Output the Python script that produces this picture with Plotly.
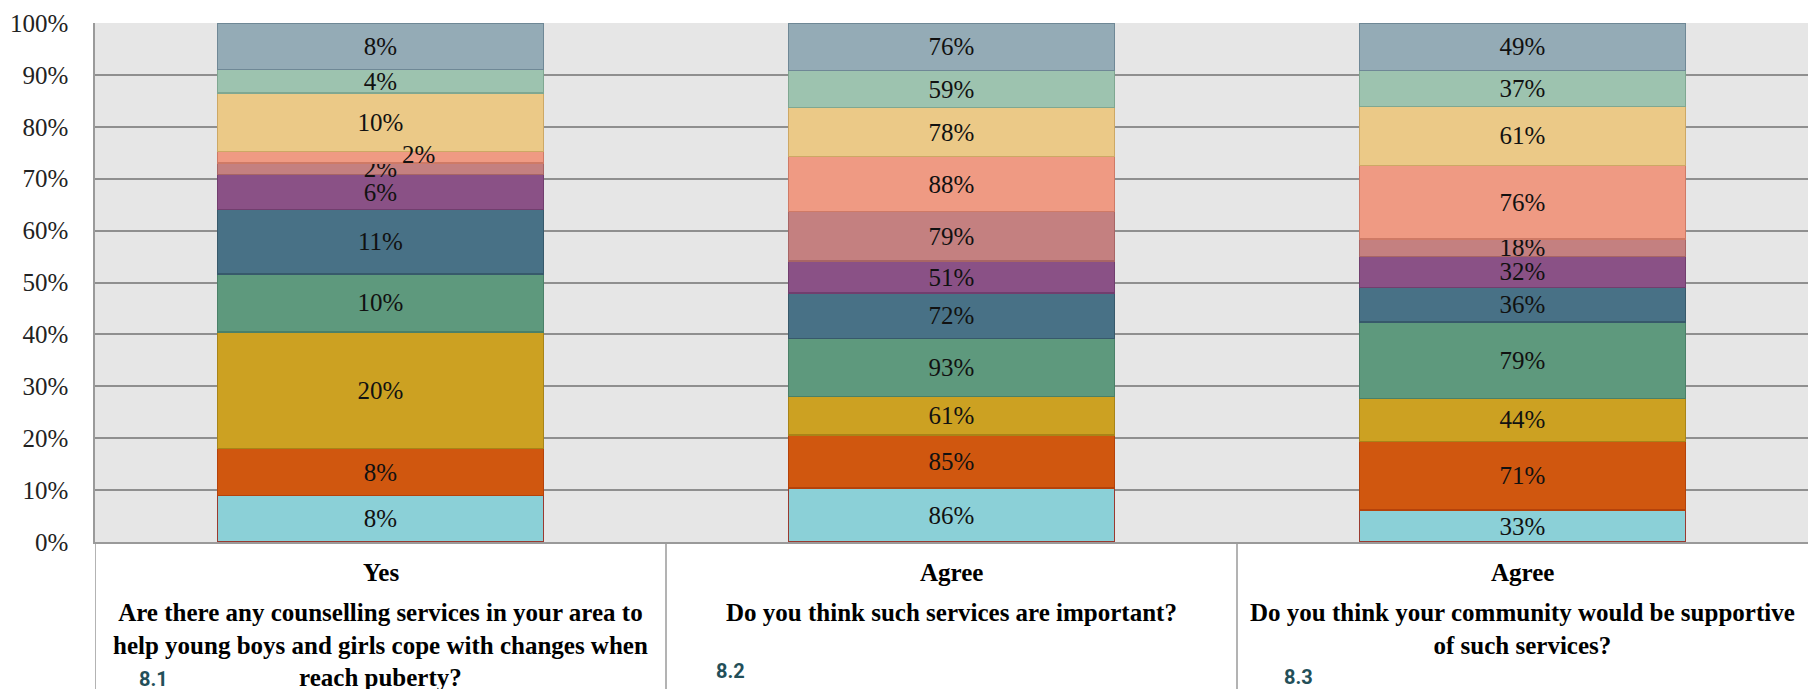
import plotly.graph_objects as go
import numpy as np

# ---- data ----
categories = ["Yes", "Agree", "Agree"]
questions = [
    "Are there any counselling services in your area to<br>help young boys and girls cope with changes when<br>reach puberty?",
    "Do you think such services are important?",
    "Do you think your community would be supportive<br>of such services?",
]
question_ids = ["8.1", "8.2", "8.3"]

s1 = [8, 86, 33]
s2 = [8, 85, 71]
s3 = [20, 61, 44]
s4 = [10, 93, 79]
s5 = [11, 72, 36]
s6 = [6, 51, 32]
s7 = [2, 79, 18]
s8 = [2, 88, 76]
s9 = [10, 78, 61]
s10 = [4, 59, 37]
s11 = [8, 76, 49]
series = [s1, s2, s3, s4, s5, s6, s7, s8, s9, s10, s11]

y_ticks = [0, 10, 20, 30, 40, 50, 60, 70, 80, 90, 100]

# ---- styles ----
fills = ["#8BD0D7", "#D0570F", "#CCA122", "#5E997D", "#487186", "#8A5186",
         "#C48080", "#EF9A83", "#EBC987", "#9DC3AF", "#94ABB6"]
lines = ["#9A3A30", "#B5420A", "#A88418", "#4A8068", "#37596B", "#713E6E",
         "#A86565", "#CF7A66", "#CDA865", "#7FA791", "#6F8896"]
SERIF = "Liberation Serif, Times New Roman, serif"
FS = 25

x_idx = list(range(len(categories)))
totals = np.sum(np.array(series), axis=0)

fig = go.Figure()
shifted = (7, 0)  # (series index, category index) whose label is nudged sideways
for i, (vals, fc, lc) in enumerate(zip(series, fills, lines)):
    texts = [f"{v}%" for v in vals]
    if i == shifted[0]:
        texts[shifted[1]] = ""
    fig.add_trace(go.Bar(
        x=x_idx, y=vals, text=texts,
        textposition="inside", insidetextanchor="middle", textangle=0,
        textfont=dict(family=SERIF, size=FS, color="#111111"),
        marker=dict(color=fc, line=dict(color=lc, width=1.5)),
        hoverinfo="skip", showlegend=False,
    ))

# nudged label (position computed from the data)
si, ci = shifted
cum_below = sum(series[k][ci] for k in range(si))
ymid = (cum_below + series[si][ci] / 2) / totals[ci] * 100
fig.add_annotation(x=ci, y=ymid, xref="x", yref="y", text=f"{series[si][ci]}%",
                   showarrow=False, xshift=38, yshift=3,
                   font=dict(family=SERIF, size=FS, color="#111111"))

# category labels table
for i, (cat, q) in enumerate(zip(categories, questions)):
    fig.add_annotation(x=i, y=0, xref="x", yref="paper", text=f"<b>{cat}</b>",
                       showarrow=False, yanchor="middle", yshift=-30,
                       font=dict(family=SERIF, size=FS, color="#000000"))
    fig.add_annotation(x=i, y=0, xref="x", yref="paper", text=f"<b>{q}</b>",
                       showarrow=False, yanchor="top", yshift=-55,
                       font=dict(family=SERIF, size=FS, color="#000000"))

id_offsets = [(-0.397, -137), (0.613, -129), (1.607, -135)]
for qid, (xo, ys) in zip(question_ids, id_offsets):
    fig.add_annotation(x=xo, y=0, xref="x", yref="paper", text=f"<b>{qid}</b>",
                       showarrow=False, yanchor="middle", yshift=ys,
                       font=dict(family="Liberation Sans Narrow, Roboto, sans-serif",
                                 size=20, color="#234F59"))

# separators of the label table
for b in [-0.5, 0.5, 1.5]:
    fig.add_shape(type="line", xref="x", yref="paper", x0=b, x1=b, y0=0, y1=-0.3,
                  line=dict(color="#9a9a9a", width=1.5))

fig.update_layout(
    barmode="stack", barnorm="percent", bargap=0.429,
    width=1808, height=689,
    margin=dict(l=95, r=0, t=23, b=147),
    plot_bgcolor="#E6E6E6", paper_bgcolor="#FFFFFF",
    uniformtext=dict(minsize=FS, mode="show"),
)
fig.update_xaxes(range=[-0.5, 2.5], showticklabels=False, showgrid=False,
                 showline=True, linecolor="#9a9a9a", linewidth=1.5, zeroline=False)
fig.update_yaxes(range=[0, 100], tickvals=y_ticks, ticktext=[f"{t}%" for t in y_ticks],
                 showgrid=True, gridcolor="#8F8F8F", gridwidth=1.5,
                 showline=True, linecolor="#9a9a9a", linewidth=1.5, zeroline=False,
                 ticklabelstandoff=20,
                 tickfont=dict(family=SERIF, size=FS, color="#222222"))

fig.write_html("out.html")
